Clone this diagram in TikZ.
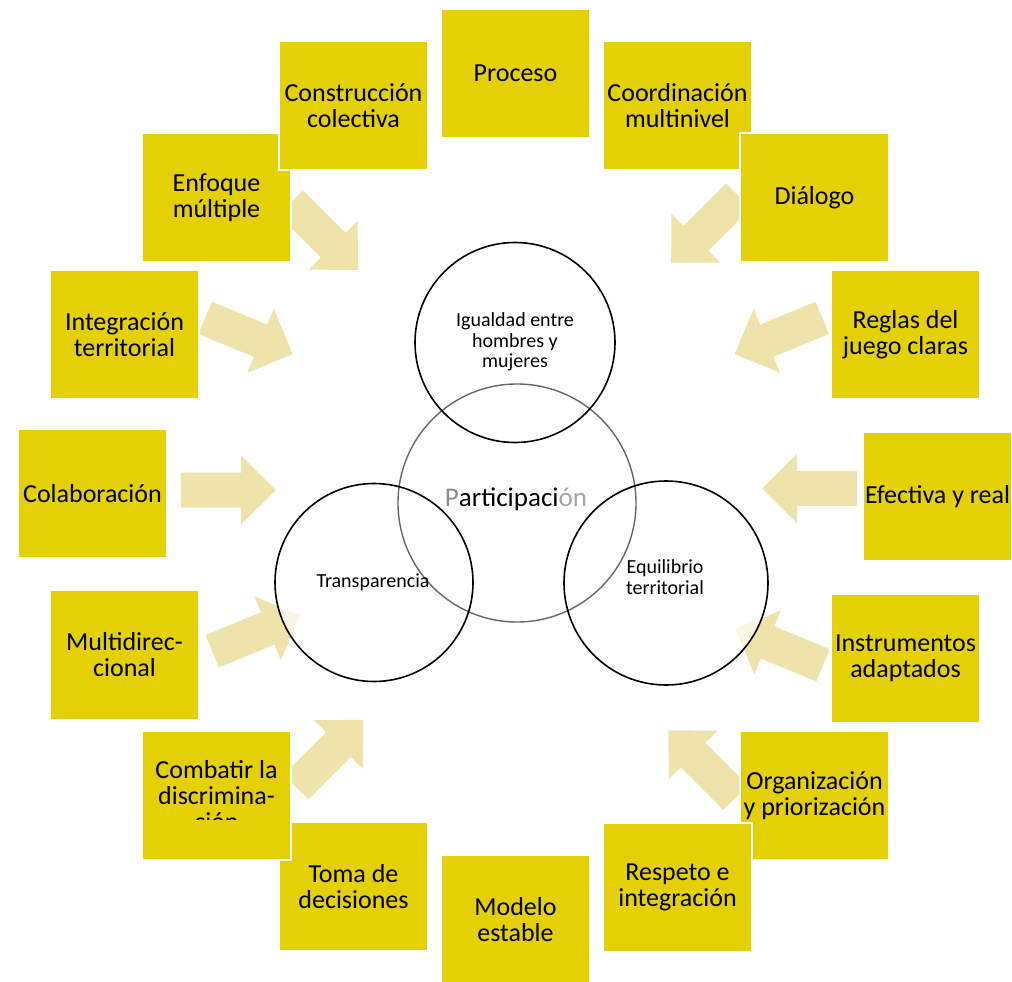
\documentclass[tikz,border=0pt]{standalone}
\usepackage{fontspec}
\setmainfont{Carlito}
\definecolor{boxyellow}{RGB}{227,208,5}
\definecolor{arrowyellow}{RGB}{238,227,170}
\begin{document}
\begin{tikzpicture}[x=1pt,y=-1pt,
  ybox/.style={rectangle, fill=boxyellow, draw=white, line width=1.2pt,
    minimum width=149pt, minimum height=129pt, inner sep=0pt, align=center,
    font=\fontsize{26}{26}\selectfont},
  btext/.style={align=center, inner sep=0pt, font=\fontsize{26}{26}\selectfont},
  ctext/.style={align=center, inner sep=0pt, font=\fontsize{20}{20.5}\selectfont},
  ring/.style={draw=black, line width=1.6pt},
  glow/.style={circle, fill=white, fill opacity=0.7, inner sep=0pt},
  barrow/.pic={\fill[arrowyellow] (0,-17.5) -- (60,-17.5) -- (60,-34.5) -- (95,0)
     -- (60,34.5) -- (60,17.5) -- (0,17.5) -- cycle;}
]
\useasboundingbox (0,0) rectangle (1012,982);

% block arrows (tails run under the boxes)
\pic[rotate=-45]    at (290.8,202.8) {barrow};
\pic[rotate=-22.5]  at (205.1,317.8) {barrow};
\pic[rotate=0]      at (181,490)     {barrow};
\pic[rotate=22.5]   at (212.2,651.3) {barrow};
\pic[rotate=45]     at (296,787)     {barrow};
\pic[rotate=-135]   at (738.3,195.8) {barrow};
\pic[rotate=-157.5] at (822.3,317.8) {barrow};
\pic[rotate=180]    at (857,488.5)   {barrow};
\pic[rotate=157.5]  at (823,665.3)   {barrow};
\pic[rotate=135]    at (735.5,797.5) {barrow};

% boxes
\node[ybox] (proceso) at (515.5,73.5) {Proceso};
\node[ybox] (enfoque) at (216.5,197.5) {Enfoque\\múltiple};
\node[ybox] (construccion) at (353.5,105.5) {Construcción\\colectiva};
\node[ybox] (coordinacion) at (677.5,105.5) {Coordinación\\multinivel};
\node[ybox] (dialogo) at (814.5,197.5) {Diálogo};
\node[ybox] (integracion) at (124.5,334.5) {Integración\\territorial};
\node[ybox] (reglas) at (905.5,334.5) {Reglas del\\juego claras};
\node[ybox] (colaboracion) at (92.5,493.5) {Colaboración};
\node[ybox] (efectiva) at (937.5,496.5) {Efectiva y real};
\node[ybox] (multidir) at (124.5,655) {Multidirec-\\cional};
\node[ybox] (instrumentos) at (905.5,658.5) {Instrumentos\\adaptados};
\node[ybox] (toma) at (353.5,886.5) {Toma de\\decisiones};
\node[ybox] (combatir) at (216.5,795.5) {};
\begin{scope}
  \clip (142,731) rectangle (291,819);
  \node[btext] (combatirtext) at (216.5,795.5) {Combatir la\\discrimina-\\ción};
\end{scope}
\node[ybox] (organizacion) at (814.5,795.5) {Organización\\y priorización};
\node[ybox] (respeto) at (677.5,887.5) {Respeto e\\integración};
\node[ybox] (modelo) at (515.5,919.5) {Modelo\\estable};

% circles
\node[glow, minimum size=198pt] (transpfill) at (374,582.5) {};
\node[glow, minimum size=204pt] (equilfill) at (666,583) {};
\draw[draw=black!60, line width=1.4pt] (517,503) circle[radius=119];
\draw[ring] (515,342.5) circle[radius=100];
\draw[ring] (transpfill.center) circle[radius=99];
\draw[ring] (equilfill.center) circle[radius=102];

% circle texts
\node[ctext] (igualdad) at (515,342) {Igualdad entre\\hombres y\\mujeres};
\node[ctext] (transparencia) at (373,582) {Transparencia};
\node[ctext] (equilibrio) at (665,577) {Equilibrio\\territorial};
\node[inner sep=0pt, font=\fontsize{27}{28}\selectfont] (participacion) at (516,499)
  {\textcolor{black!45}{P}articipaci\textcolor{black!35}{ón}};
\end{tikzpicture}
\end{document}
